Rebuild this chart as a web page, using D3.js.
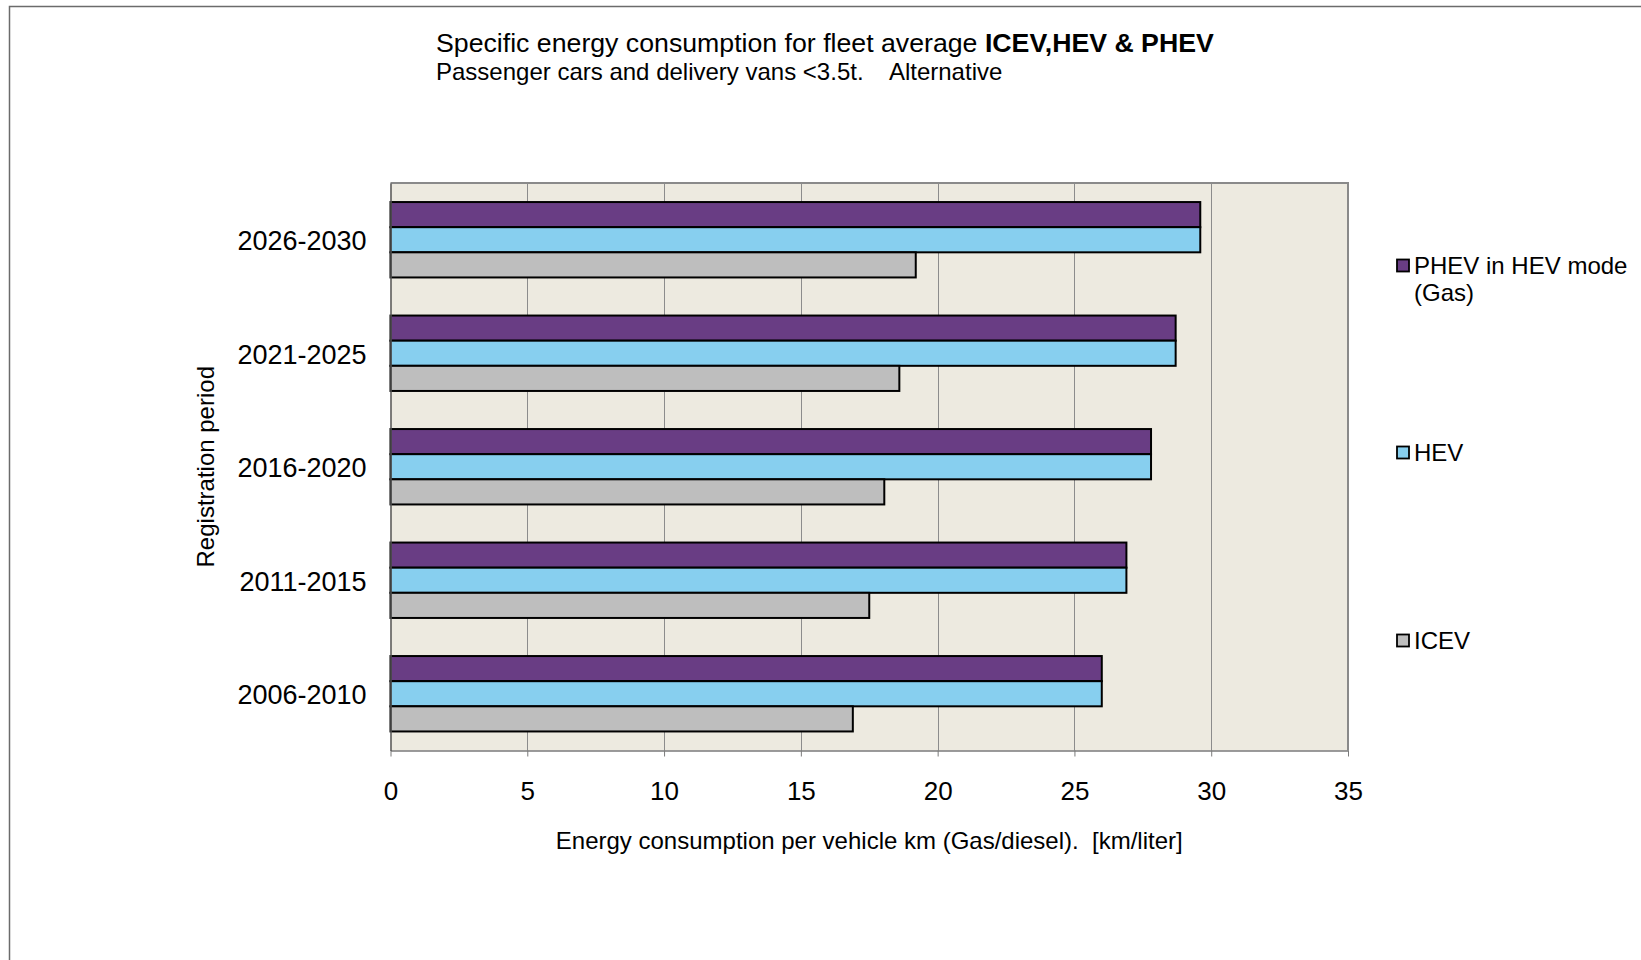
<!DOCTYPE html>
<html>
<head>
<meta charset="utf-8">
<script src="https://cdn.jsdelivr.net/npm/d3@7"></script>
<style>
  html, body { margin: 0; padding: 0; background: #ffffff; }
  svg { display: block; font-family: "Liberation Sans", Arial, sans-serif; }
</style>
</head>
<body>
<svg id="chart" width="1641" height="960"></svg>
<script>
// Registration periods, listed top to bottom
const categories = ["2026-2030", "2021-2025", "2016-2020", "2011-2015", "2006-2010"];
// Series, listed top to bottom within each group
const seriesNames = ["PHEV in HEV mode (Gas)", "HEV", "ICEV"];
const phevValues = [29.6, 28.7, 27.8, 26.9, 26.0];
const hevValues  = [29.6, 28.7, 27.8, 26.9, 26.0];
const icevValues = [19.2, 18.6, 18.05, 17.5, 16.9];
const xTicks = [0, 5, 10, 15, 20, 25, 30, 35];
const seriesColors = ["#693d84", "#87cfef", "#bebebe"];

const seriesValues = [phevValues, hevValues, icevValues];

const svg = d3.select("#chart");

// Outer chart frame
svg.append("rect")
  .attr("x", 9.5).attr("y", 6.5)
  .attr("width", 1700).attr("height", 1000)
  .attr("fill", "#ffffff")
  .attr("stroke", "#6b6b6b").attr("stroke-width", 1.5);

const plot = { left: 390.5, right: 1348, top: 183, bottom: 750.5 };

const x = d3.scaleLinear().domain([0, 35]).range([plot.left, plot.right]);
const y = d3.scaleBand().domain(categories).range([plot.top, plot.bottom]).padding(0);
const ySub = d3.scaleBand().domain(d3.range(seriesNames.length))
  .range([0, y.bandwidth()]).paddingInner(0).paddingOuter(0.758);

// Plot background
svg.append("rect")
  .attr("x", plot.left).attr("y", plot.top)
  .attr("width", plot.right - plot.left).attr("height", plot.bottom - plot.top)
  .attr("fill", "#edeae0");

// Vertical gridlines
svg.append("g").selectAll("line")
  .data(xTicks.filter(t => t > 0 && t < 35))
  .join("line")
  .attr("x1", d => Math.round(x(d)) + 0.5).attr("x2", d => Math.round(x(d)) + 0.5)
  .attr("y1", plot.top).attr("y2", plot.bottom)
  .attr("stroke", "#8c8c8c").attr("stroke-width", 1);

// Plot border (top and right)
svg.append("path")
  .attr("d", `M${plot.left},${plot.top}H${plot.right}V${plot.bottom}`)
  .attr("fill", "none").attr("stroke", "#8a8a8a").attr("stroke-width", 2);

// Bars
const groups = svg.append("g").selectAll("g")
  .data(categories)
  .join("g")
  .attr("transform", c => `translate(0,${y(c)})`);

groups.selectAll("rect")
  .data((c, ci) => seriesValues.map((vals, si) => ({ si, v: vals[ci] })))
  .join("rect")
  .attr("x", x(0))
  .attr("y", d => ySub(d.si))
  .attr("width", d => x(d.v) - x(0))
  .attr("height", ySub.bandwidth())
  .attr("fill", d => seriesColors[d.si])
  .attr("stroke", "#000000").attr("stroke-width", 2);

// X axis
const xAxis = svg.append("g")
  .attr("transform", `translate(0,${plot.bottom})`)
  .call(d3.axisBottom(x).tickValues(xTicks).tickSize(6).tickPadding(25).tickSizeOuter(0));
xAxis.select(".domain").attr("stroke", "#7a7a7a").attr("stroke-width", 1.5);
xAxis.selectAll(".tick line").attr("stroke", "#7a7a7a");
xAxis.selectAll(".tick text")
  .attr("fill", "#000").style("font-size", "26px")
  .style("font-family", "'Liberation Sans', Arial, sans-serif");

// Y axis
const yAxis = svg.append("g")
  .attr("transform", `translate(${plot.left},0)`)
  .call(d3.axisLeft(y).tickSize(0).tickPadding(24));
yAxis.select(".domain").attr("stroke", "#555555").attr("stroke-width", 1.5);
yAxis.selectAll(".tick text")
  .attr("fill", "#000").style("font-size", "27px")
  .attr("dy", "0.38em")
  .style("font-family", "'Liberation Sans', Arial, sans-serif");

// Axis titles
svg.append("text")
  .attr("x", (plot.left + plot.right) / 2).attr("y", 849)
  .attr("text-anchor", "middle").style("font-size", "24px")
  .attr("xml:space", "preserve")
  .text("Energy consumption per vehicle km (Gas/diesel).  [km/liter]");

svg.append("text")
  .attr("transform", `translate(214,${(plot.top + plot.bottom) / 2}) rotate(-90)`)
  .attr("text-anchor", "middle").style("font-size", "24px")
  .text("Registration period");

// Title
const title = svg.append("text").attr("x", 436).attr("y", 52).style("font-size", "26.7px");
title.append("tspan").text("Specific energy consumption for fleet average ");
title.append("tspan").attr("font-weight", "bold").text("ICEV,HEV & PHEV");

svg.append("text")
  .attr("x", 436).attr("y", 80).style("font-size", "24px")
  .attr("xml:space", "preserve")
  .text("Passenger cars and delivery vans <3.5t.    Alternative");

// Legend
const legendY = [266, 453, 641];
const legend = svg.append("g").selectAll("g")
  .data(seriesNames)
  .join("g")
  .attr("transform", (d, i) => `translate(1397,${legendY[i]})`);

legend.append("rect")
  .attr("x", 0).attr("y", -6.5).attr("width", 12).attr("height", 12)
  .attr("fill", (d, i) => seriesColors[i])
  .attr("stroke", "#000").attr("stroke-width", 1.8);

legend.each(function (d, i) {
  const t = d3.select(this).append("text")
    .attr("x", 17).attr("y", 8).style("font-size", "24px");
  if (i === 0) {
    t.append("tspan").attr("x", 17).text("PHEV in HEV mode");
    t.append("tspan").attr("x", 17).attr("dy", 27).text("(Gas)");
  } else {
    t.text(d);
  }
});
</script>
</body>
</html>
